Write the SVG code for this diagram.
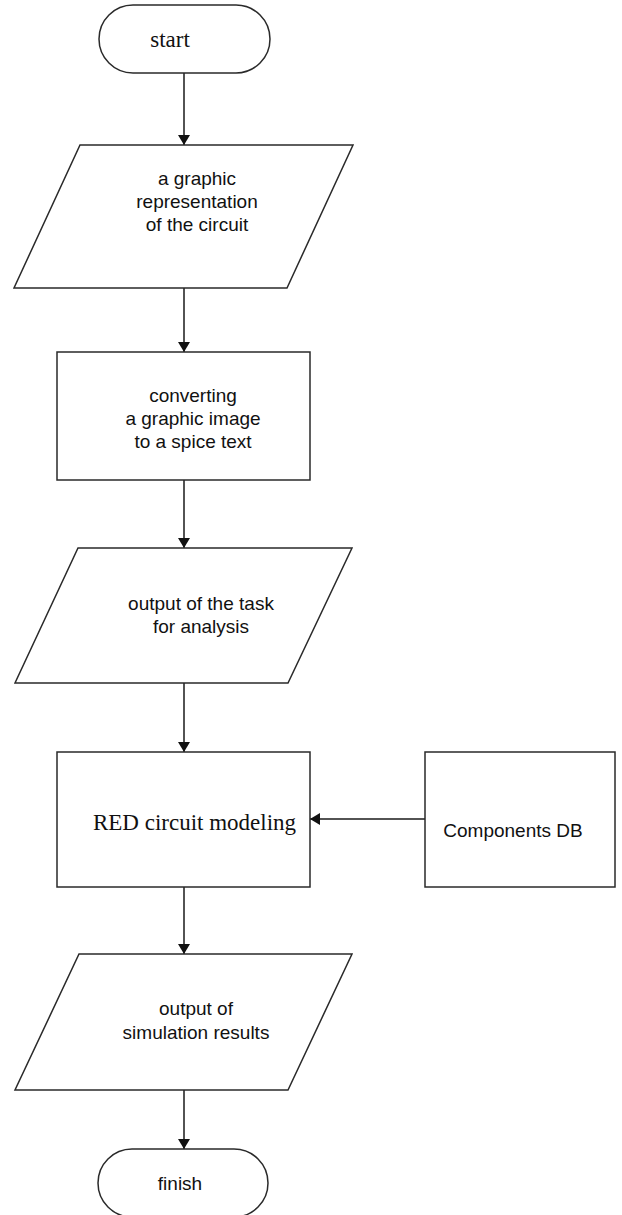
<svg xmlns="http://www.w3.org/2000/svg" width="622" height="1215" viewBox="0 0 622 1215">
<defs>
<style>
.shape{fill:#fff;stroke:#2a2a2a;stroke-width:1.5}
.conn{fill:none;stroke:#1a1a1a;stroke-width:1.5}
.t{font-family:"Liberation Sans",Arial,sans-serif;font-size:19px;fill:#111;text-anchor:middle}
.s{font-family:"Liberation Serif","Times New Roman",serif;font-size:23px;fill:#111;text-anchor:middle}
</style>
<marker id="arr" viewBox="0 0 10 12" refX="10" refY="6" markerWidth="11" markerHeight="12" markerUnits="userSpaceOnUse" orient="auto">
<path d="M0,0 L10,6 L0,12 Z" fill="#111"/>
</marker>
</defs>
<rect width="622" height="1215" fill="#fff"/>
<g id="connectors">
<line class="conn" x1="184" y1="73" x2="184" y2="145" marker-end="url(#arr)"/>
<line class="conn" x1="184" y1="288" x2="184" y2="352" marker-end="url(#arr)"/>
<line class="conn" x1="184" y1="480" x2="184" y2="548" marker-end="url(#arr)"/>
<line class="conn" x1="184" y1="683" x2="184" y2="752" marker-end="url(#arr)"/>
<line class="conn" x1="425" y1="819" x2="310" y2="819" marker-end="url(#arr)"/>
<line class="conn" x1="184" y1="887" x2="184" y2="954" marker-end="url(#arr)"/>
<line class="conn" x1="184" y1="1090" x2="184" y2="1149" marker-end="url(#arr)"/>
</g>
<g id="start">
<rect class="shape" x="99" y="5" width="171" height="68" rx="34" ry="34"/>
<text class="s" x="170" y="47">start</text>
</g>
<g id="input">
<polygon class="shape" points="80,145 353,145 287,288 14,288"/>
<text class="t" x="197" y="185">a graphic</text>
<text class="t" x="197" y="208">representation</text>
<text class="t" x="197" y="231">of the circuit</text>
</g>
<g id="convert">
<rect class="shape" x="57" y="352" width="253" height="128"/>
<text class="t" x="193" y="402">converting</text>
<text class="t" x="193" y="425">a graphic image</text>
<text class="t" x="193" y="448">to a spice text</text>
</g>
<g id="task">
<polygon class="shape" points="78,548 352,548 288,683 15,683"/>
<text class="t" x="201" y="610">output of the task</text>
<text class="t" x="201" y="633">for analysis</text>
</g>
<g id="modeling">
<rect class="shape" x="57" y="752" width="253" height="135"/>
<text class="s" x="194.5" y="830">RED circuit modeling</text>
</g>
<g id="db">
<rect class="shape" x="425" y="752" width="190" height="135"/>
<text class="t" x="513" y="837">Components DB</text>
</g>
<g id="results">
<polygon class="shape" points="79,954 352,954 288,1090 15,1090"/>
<text class="t" x="196" y="1015">output of</text>
<text class="t" x="196" y="1039">simulation results</text>
</g>
<g id="finish">
<rect class="shape" x="98" y="1149" width="170" height="68" rx="34" ry="34"/>
<text class="t" x="180" y="1190">finish</text>
</g>
</svg>
